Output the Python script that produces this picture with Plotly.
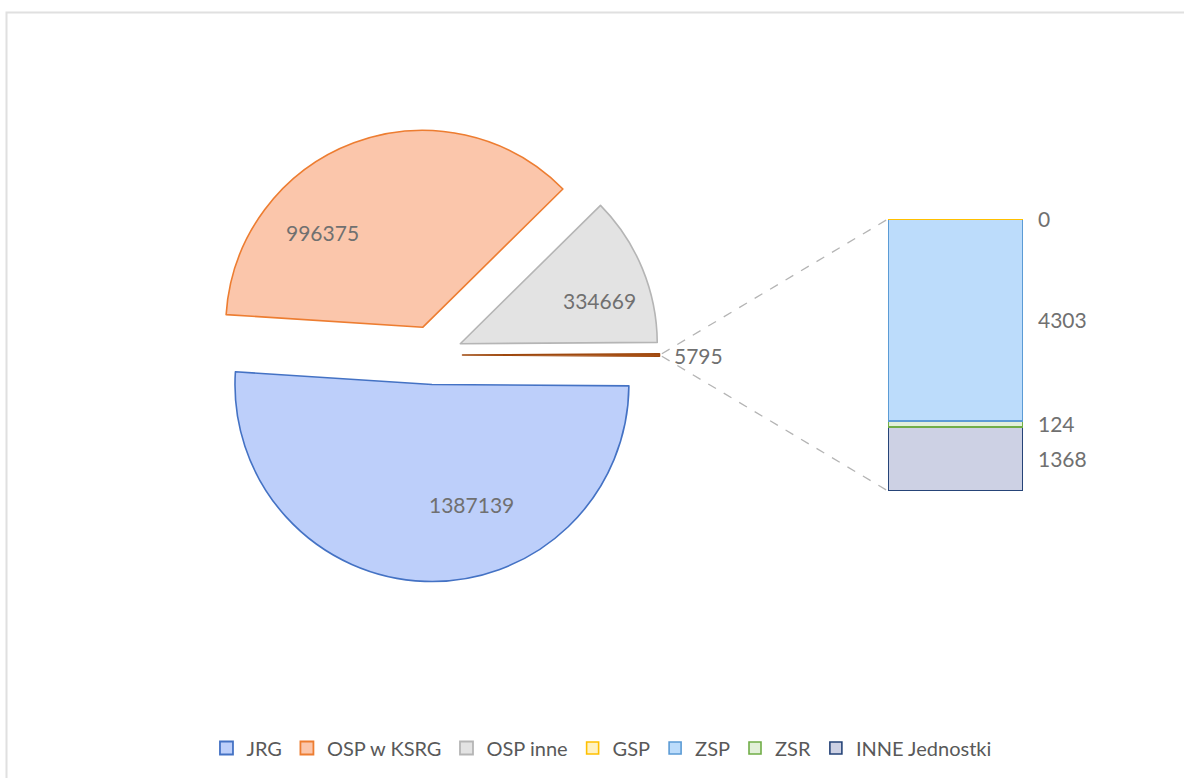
import math
import plotly.graph_objects as go

# ---- data ----
pie_labels = ["JRG", "OSP w KSRG", "OSP inne", "Inne"]
pie_values = [1387139, 996375, 334669, 5795]
bar_labels = ["GSP", "ZSP", "ZSR", "INNE Jednostki"]
bar_values = [0, 4303, 124, 1368]

# ---- styles ----
pie_fill = ["#bdcffa", "#fbc6ab", "#e3e3e3", "#b0561a"]
pie_line = ["#4472C4", "#ED7D31", "#B5B5B5", "#9E480E"]
# label placement inside each slice: (fraction along slice span, fraction of radius)
pie_label_place = [(0.39, 0.64), (0.30, 0.70), (0.62, 0.74), (0.5, 1.20)]
bar_fill = {"GSP": "#fff2c2", "ZSP": "#bcdcfb", "ZSR": "#e2f0d9", "INNE Jednostki": "#cdd1e4"}
bar_line = {"GSP": "#FFC000", "ZSP": "#5B9BD5", "ZSR": "#70AD47", "INNE Jednostki": "#264478"}

W, H = 1184, 778
FONT = "Lato"
TXT = "#707070"

total = sum(pie_values)
other = pie_values[-1]
pull = 0.15
rotation = 90 + 180 * other / total

pie_dx = [206.5 / W, 659.5 / W]
pie_dy = [1 - 581.5 / H, 1 - 128.5 / H]

fig = go.Figure()

fig.add_trace(go.Pie(
    labels=pie_labels, values=pie_values, sort=False, direction="clockwise",
    rotation=rotation, pull=pull,
    marker=dict(colors=pie_fill, line=dict(color=pie_line, width=1.6)),
    textinfo="none",
    domain=dict(x=pie_dx, y=pie_dy), showlegend=False, hoverinfo="label+value",
))

# pie geometry (pixel space) for labels and connectors
cx = (pie_dx[0] + pie_dx[1]) / 2 * W
cy = (1 - (pie_dy[0] + pie_dy[1]) / 2) * H
r = min((pie_dx[1] - pie_dx[0]) * W, (pie_dy[1] - pie_dy[0]) * H) / (2 + 2 * pull)

start = rotation
slices = []
for v in pie_values:
    span = 360 * v / total
    slices.append((start, span))
    start += span

for i, (s, span) in enumerate(slices):
    mid = math.radians(s + span / 2)
    ox, oy = cx + pull * r * math.sin(mid), cy - pull * r * math.cos(mid)
    fa, fr = pie_label_place[i]
    a = math.radians(s + fa * span)
    lx, ly = ox + fr * r * math.sin(a), oy - fr * r * math.cos(a)
    fig.add_annotation(x=lx / W, y=1 - ly / H, xref="paper", yref="paper", text=str(pie_values[i]),
                       showarrow=False, xanchor="center", yanchor="middle",
                       font=dict(family=FONT, size=21, color=TXT))

# legend entries for pie slices
for i, name in enumerate(pie_labels[:3]):
    fig.add_trace(go.Scatter(
        x=[None], y=[None], mode="markers", name=name, legendrank=i + 1,
        marker=dict(symbol="square", size=13, color=pie_fill[i], line=dict(color=pie_line[i], width=1.8)),
    ))

# stacked bar: bottom first
order = ["INNE Jednostki", "ZSR", "ZSP", "GSP"]
for name in order:
    v = bar_values[bar_labels.index(name)]
    fig.add_trace(go.Bar(
        x=[0], y=[v], name=name, width=1,
        legendrank=4 + bar_labels.index(name),
        marker=dict(color=bar_fill[name], line=dict(color=bar_line[name], width=1.6)),
        hoverinfo="name+y",
    ))

cum = 0
for name in order:
    v = bar_values[bar_labels.index(name)]
    ymid = cum + v / 2
    cum += v
    if v == 0:
        ymid = cum
    fig.add_annotation(x=0.5, y=ymid, xref="x", yref="y", text=str(v), showarrow=False,
                       xanchor="left", xshift=13, font=dict(family=FONT, size=21, color=TXT))

# connector lines from "other" slice outer corners to bar corners
s, span = slices[-1]
mid = math.radians(s + span / 2)
ox, oy = cx + pull * r * math.sin(mid), cy - pull * r * math.cos(mid)
a0, a1 = math.radians(s), math.radians(s + span)
p0 = (ox + r * math.sin(a0), oy - r * math.cos(a0))
p1 = (ox + r * math.sin(a1), oy - r * math.cos(a1))
bar_dx = [888 / W, 1023 / W]
bar_dy = [1 - 491 / H, 1 - 219 / H]
for (px, py), by in ((p0, bar_dy[1]), (p1, bar_dy[0])):
    fig.add_shape(type="line", xref="paper", yref="paper",
                  x0=px / W + 0.002, y0=1 - py / H, x1=bar_dx[0], y1=by,
                  line=dict(color="#B4B4B4", width=1.3, dash="dash"), layer="below")

# chart frame
fig.add_shape(type="rect", xref="paper", yref="paper",
              x0=6.5 / W, y0=1 - 12.5 / H, x1=1.02, y1=-0.02,
              line=dict(color="#E0E0E0", width=2), fillcolor="rgba(0,0,0,0)", layer="below")

fig.update_layout(
    width=W, height=H, margin=dict(l=0, r=0, t=0, b=0),
    paper_bgcolor="white", plot_bgcolor="rgba(0,0,0,0)",
    barmode="stack",
    xaxis=dict(domain=bar_dx, range=[-0.5, 0.5], visible=False, fixedrange=True),
    yaxis=dict(domain=bar_dy, range=[0, sum(bar_values)], visible=False, fixedrange=True),
    legend=dict(orientation="h", x=0.508, xanchor="center", y=1 - 748 / H, yanchor="middle",
                traceorder="normal", font=dict(family=FONT, size=20, color="#595959"),
                itemwidth=30, tracegroupgap=0),
    font=dict(family=FONT, color=TXT),
)

fig.write_html("out.html", config={"displayModeBar": False},
               post_script="document.body.style.margin='0px';")
